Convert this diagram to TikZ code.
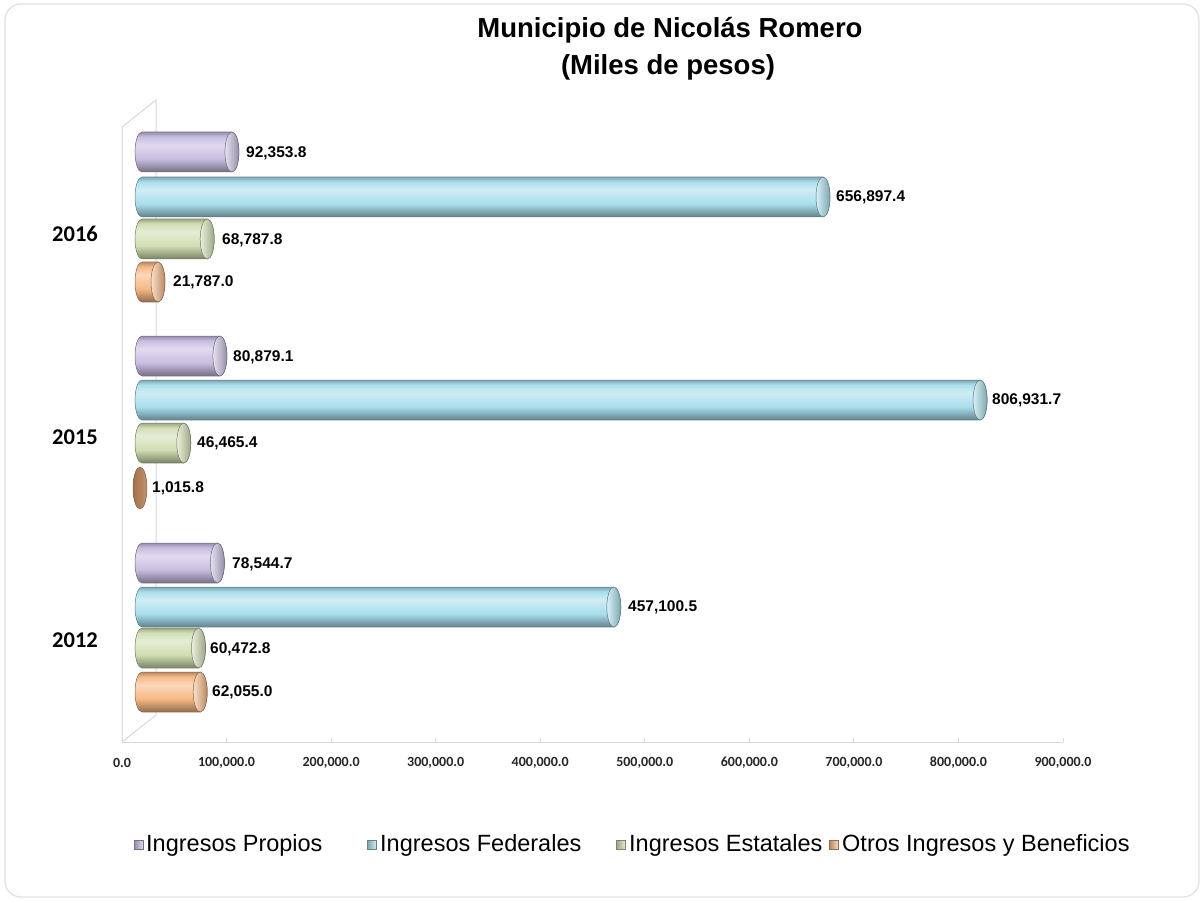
\documentclass[tikz,border=0pt]{standalone}
\usepackage{fontspec}
\setmainfont{Liberation Sans}
\newfontfamily\calfont{Carlito}
\definecolor{cpur}{RGB}{200,189,224}
\definecolor{ccya}{RGB}{168,222,236}
\definecolor{cgre}{RGB}{208,222,178}
\definecolor{cora}{RGB}{246,184,132}
\definecolor{cbro}{RGB}{190,134,90}
\definecolor{axisgrey}{RGB}{217,217,217}
\definecolor{framegrey}{RGB}{226,226,226}
% body outline of a horizontal cylinder: #1 end x, #2 centre y
\newcommand\cylpath[2]{(142,{#2-20}) -- ({#1-7},{#2-20})
    arc[start angle=-90, end angle=90, x radius=7, y radius=20]
    -- (142,{#2+20})
    arc[start angle=90, end angle=270, x radius=7, y radius=20] -- cycle}
% #1 end x, #2 centre y, #3 colour
\newcommand\cylbar[3]{%
  \begin{scope}
    \clip \cylpath{#1}{#2};
    \foreach \i in {0,...,39}{%
      \pgfmathsetmacro\pp{(\i+0.5)/40}%
      \pgfmathsetmacro\bb{\pp<0.33 ? -28+73*\pp/0.33 : 45-85*(\pp-0.33)/0.67}%
      \pgfmathsetmacro\ww{100-abs(\bb)}%
      \ifdim\bb pt<0pt \def\mixc{black}\else\def\mixc{white}\fi
      \fill[#3!\ww!\mixc] (130,{#2-20+\i}) rectangle ({#1+2},{#2-20+\i+1.3});
    }
  \end{scope}
  \draw[#3!55!black, line width=0.5pt] \cylpath{#1}{#2};
  \shade[left color=#3!45!white, right color=#3!75!black, draw=#3!55!black, line width=0.5pt]
    ({#1-7},#2) ellipse (7 and 20);
}
\newcommand\legmark[2]{%
  \shade[left color=#2!75!black, right color=#2!50!white, draw=#2!60!black, line width=0.4pt]
    ({#1-4.5},840.5) rectangle ({#1+4.5},849.5);
}
\begin{document}
\begin{tikzpicture}[x=1pt,y=-1pt,
  axisline/.style={draw=axisgrey, line width=1pt},
  vallabel/.style={anchor=west, inner sep=0pt, font=\bfseries\fontsize{15.5}{18}\selectfont},
  ticklabel/.style={anchor=center, inner sep=0pt, text=black!85, font=\calfont\bfseries\fontsize{14}{16}\selectfont},
  yearlabel/.style={anchor=center, inner sep=0pt, font=\calfont\bfseries\fontsize{22.5}{24}\selectfont},
  titlelabel/.style={anchor=center, inner sep=0pt, font=\bfseries\fontsize{27.5}{30}\selectfont},
  legendlabel/.style={anchor=west, inner sep=0pt, font=\fontsize{23.5}{26}\selectfont},
]
\useasboundingbox (0,0) rectangle (1204,901);
\fill[white] (0,0) rectangle (1204,901);
\draw[framegrey, line width=1.3pt, rounded corners=16pt] (5,4) rectangle (1199,897);

% title
\node[titlelabel] (title1) at (670,30) {Municipio de Nicolás Romero};
\node[titlelabel] (title2) at (668,67) {(Miles de pesos)};

% 3D axis frame
\draw[axisline] (122,127) -- (156,100) -- (156,715) -- (122,742) -- cycle;
\draw[axisline] (122,742) -- (1063,742);
\foreach \k/\lab in {0/0.0,1/100{,}000.0,2/200{,}000.0,3/300{,}000.0,4/400{,}000.0,5/500{,}000.0,6/600{,}000.0,7/700{,}000.0,8/800{,}000.0,9/900{,}000.0}{
  \draw[axisline] ({122+104.56*\k},742) -- ({122+104.56*\k},738);
  \node[ticklabel] (tick\k) at ({122+104.56*\k},763) {\lab};
}

% year labels
\node[yearlabel] (y2016) at (75,234) {2016};
\node[yearlabel] (y2015) at (75,437) {2015};
\node[yearlabel] (y2012) at (75,640) {2012};

% 2016
\cylbar{238.9}{152}{cpur}
\cylbar{830.0}{197}{ccya}
\cylbar{214.2}{239}{cgre}
\cylbar{165.0}{282}{cora}
\node[vallabel] (v16a) at (246,153) {92,353.8};
\node[vallabel] (v16b) at (836,197) {656,897.4};
\node[vallabel] (v16c) at (222,240) {68,787.8};
\node[vallabel] (v16d) at (173,282) {21,787.0};

% 2015
\cylbar{226.9}{356}{cpur}
\cylbar{987.1}{400}{ccya}
\cylbar{190.8}{443}{cgre}
\shade[left color=cbro!85!black, right color=cbro!90!white, draw=cbro!70!black, line width=0.5pt]
  (140,488) ellipse (7 and 21);
\node[vallabel] (v15a) at (233,357) {80,879.1};
\node[vallabel] (v15b) at (992,400) {806,931.7};
\node[vallabel] (v15c) at (197,443) {46,465.4};
\node[vallabel] (v15d) at (152,488) {1,015.8};

% 2012
\cylbar{224.4}{563}{cpur}
\cylbar{620.8}{607}{ccya}
\cylbar{205.5}{648}{cgre}
\cylbar{207.2}{692}{cora}
\node[vallabel] (v12a) at (232,564) {78,544.7};
\node[vallabel] (v12b) at (628,607) {457,100.5};
\node[vallabel] (v12c) at (210,649) {60,472.8};
\node[vallabel] (v12d) at (212,692) {62,055.0};

% legend
\legmark{139}{cpur}
\legmark{372}{ccya}
\legmark{621}{cgre}
\legmark{834}{cora}
\node[legendlabel] (lg1) at (146,845) {Ingresos Propios};
\node[legendlabel] (lg2) at (380,845) {Ingresos Federales};
\node[legendlabel] (lg3) at (629,845) {Ingresos Estatales};
\node[legendlabel] (lg4) at (842,845) {Otros Ingresos y Beneficios};
\end{tikzpicture}
\end{document}
